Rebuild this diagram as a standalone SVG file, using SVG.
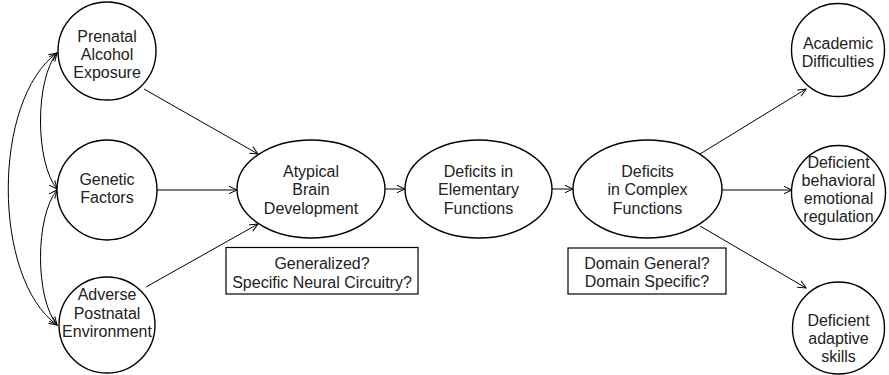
<svg xmlns="http://www.w3.org/2000/svg" width="889" height="375" viewBox="0 0 889 375">
<defs>
<marker id="ah" markerUnits="userSpaceOnUse" markerWidth="20" markerHeight="20" refX="10" refY="10" orient="auto-start-reverse" viewBox="0 0 20 20" overflow="visible">
<path d="M2,6.3 L10,10 L2,13.7" fill="none" stroke="#000" stroke-width="1"/>
</marker>
<style>
.n{fill:#fff;stroke:#000;stroke-width:1.4}
.b{fill:#fff;stroke:#000;stroke-width:1.2}
.c{fill:none;stroke:#000;stroke-width:1}
text{font-family:"Liberation Sans",Arial,sans-serif;font-size:16px;fill:#222;text-anchor:middle}
</style>
</defs>
<g id="connectors">
<path class="c" d="M57,53 C35,80 35,162 57,189" marker-start="url(#ah)" marker-end="url(#ah)"/>
<path class="c" d="M57,190 C35,217 35,298 57,325" marker-start="url(#ah)" marker-end="url(#ah)"/>
<path class="c" d="M57,53 C-8,100 -8,278 57,325" marker-start="url(#ah)" marker-end="url(#ah)"/>
<line class="c" x1="144" y1="89" x2="258" y2="154" marker-end="url(#ah)"/>
<line class="c" x1="157" y1="190" x2="237" y2="190" marker-end="url(#ah)"/>
<line class="c" x1="146" y1="287" x2="258" y2="224" marker-end="url(#ah)"/>
<line class="c" x1="385" y1="189" x2="405" y2="189" marker-end="url(#ah)"/>
<line class="c" x1="552" y1="189" x2="573" y2="189" marker-end="url(#ah)"/>
<line class="c" x1="700" y1="154" x2="806" y2="89" marker-end="url(#ah)"/>
<line class="c" x1="722" y1="190" x2="792" y2="190" marker-end="url(#ah)"/>
<line class="c" x1="700" y1="226" x2="806" y2="288" marker-end="url(#ah)"/>
</g>
<g id="prenatal">
<circle class="n" cx="107" cy="51" r="49"/>
<text x="107" y="42">Prenatal</text>
<text x="107" y="60">Alcohol</text>
<text x="107" y="78">Exposure</text>
</g>
<g id="genetic">
<circle class="n" cx="107" cy="190" r="50"/>
<text x="107" y="185">Genetic</text>
<text x="107" y="203">Factors</text>
</g>
<g id="adverse">
<circle class="n" cx="107" cy="325" r="48"/>
<text x="107" y="300">Adverse</text>
<text x="107" y="319">Postnatal</text>
<text x="107" y="337">Environment</text>
</g>
<g id="atypical">
<ellipse class="n" cx="311" cy="189" rx="74" ry="49"/>
<text x="311" y="176.5">Atypical</text>
<text x="311" y="195">Brain</text>
<text x="311" y="213.5">Development</text>
</g>
<g id="elementary">
<ellipse class="n" cx="478.5" cy="189" rx="73.5" ry="49"/>
<text x="478.5" y="176.5">Deficits in</text>
<text x="478.5" y="195">Elementary</text>
<text x="478.5" y="213.5">Functions</text>
</g>
<g id="complex">
<ellipse class="n" cx="647.5" cy="189" rx="74.5" ry="49"/>
<text x="647.5" y="176.5">Deficits</text>
<text x="647.5" y="195">in Complex</text>
<text x="647.5" y="213.5">Functions</text>
</g>
<g id="box-brain">
<rect class="b" x="226" y="247.5" width="192" height="46.5"/>
<text x="322" y="269">Generalized?</text>
<text x="322" y="288">Specific Neural Circuitry?</text>
</g>
<g id="box-domain">
<rect class="b" x="568" y="248" width="158" height="46"/>
<text x="647" y="268.5">Domain General?</text>
<text x="647" y="287">Domain Specific?</text>
</g>
<g id="academic">
<circle class="n" cx="838" cy="50" r="46.5"/>
<text x="838" y="48.5">Academic</text>
<text x="838" y="67">Difficulties</text>
</g>
<g id="behavioral">
<circle class="n" cx="838.5" cy="192.5" r="47"/>
<text x="838.5" y="168">Deficient</text>
<text x="838.5" y="186">behavioral</text>
<text x="838.5" y="204">emotional</text>
<text x="838.5" y="222">regulation</text>
</g>
<g id="adaptive">
<circle class="n" cx="838.5" cy="328" r="46"/>
<text x="838.5" y="326">Deficient</text>
<text x="838.5" y="344">adaptive</text>
<text x="838.5" y="362">skills</text>
</g>
</svg>
